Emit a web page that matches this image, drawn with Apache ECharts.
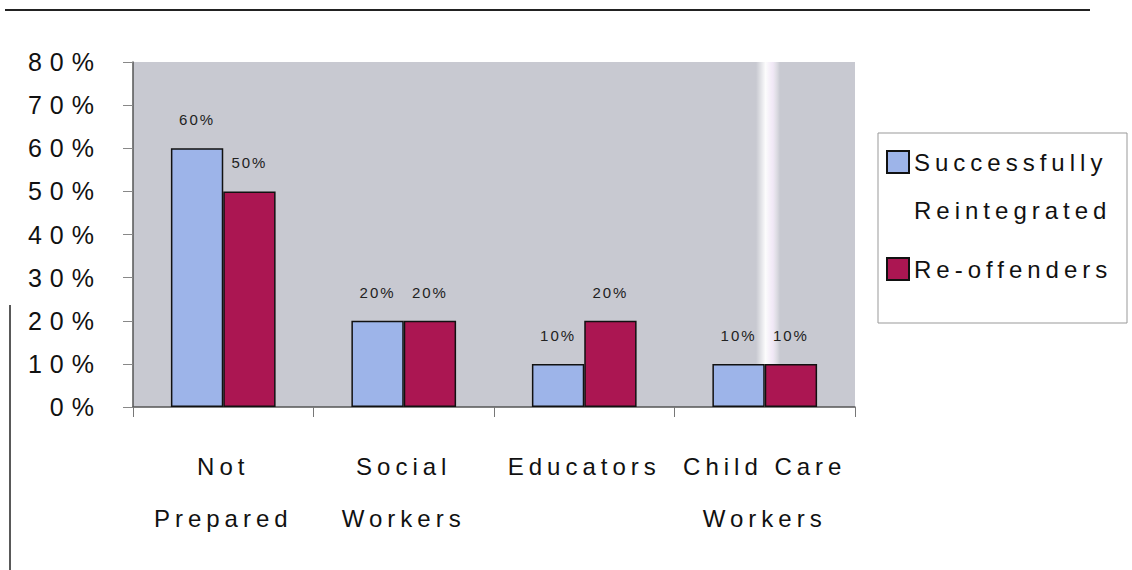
<!DOCTYPE html>
<html>
<head>
<meta charset="utf-8">
<script src="https://cdn.jsdelivr.net/npm/echarts@6/dist/echarts.min.js"></script>
<style>
html,body{margin:0;padding:0;background:#fff;}
#chart{width:1132px;height:570px;}
#chart text[style*="25px"]{letter-spacing:8px;}
#chart text[style*="24px"]{letter-spacing:5px;}
#chart text[style*="15px"]{letter-spacing:2px;}
</style>
</head>
<body>
<div id="chart"></div>
<script>
const categories = ['Not\nPrepared', 'Social\nWorkers', 'Educators', 'Child Care\nWorkers'];
const seriesNames = ['Successfully\nReintegrated', 'Re-offenders'];
const reintegrated = [0.60, 0.20, 0.10, 0.10];
const reoffenders = [0.50, 0.20, 0.20, 0.10];
const yTicks = { min: 0, max: 0.8, interval: 0.1 };

const FONT = "'Liberation Sans', Arial, sans-serif";
const chart = echarts.init(document.getElementById('chart'), null, { renderer: 'svg' });
const labelCfg = {
  show: true, position: 'top', distance: 21,
  fontFamily: FONT, fontSize: 15, color: '#222',
  formatter: p => Math.round(p.value * 100) + '%'
};
chart.setOption({
  animation: false,
  backgroundColor: '#ffffff',
  grid: {
    left: 133, right: 277, top: 62, bottom: 163,
    show: true, backgroundColor: '#c8c9d1', borderWidth: 0
  },
  graphic: [
    { type: 'rect', z: 1, shape: { x: 756, y: 62, width: 24, height: 345 },
      style: { fill: new echarts.graphic.LinearGradient(0, 0, 1, 0, [
        { offset: 0, color: 'rgba(255,255,255,0)' },
        { offset: 0.4, color: 'rgba(255,255,255,0.95)' },
        { offset: 0.7, color: 'rgba(245,235,250,0.9)' },
        { offset: 1, color: 'rgba(255,255,255,0)' }]) } },
    { type: 'line', shape: { x1: 5, y1: 10, x2: 1090, y2: 10 }, style: { stroke: '#222', lineWidth: 2 } },
    { type: 'line', shape: { x1: 10, y1: 305, x2: 10, y2: 570 }, style: { stroke: '#222', lineWidth: 1.5 } },
    { type: 'rect', shape: { x: 878, y: 133, width: 249, height: 190 }, style: { fill: '#fff', stroke: '#999', lineWidth: 1 } }
  ],
  legend: [
    { data: [seriesNames[0]], left: 886, top: 90, orient: 'vertical', padding: 0,
      itemWidth: 22, itemHeight: 22, itemGap: 0, icon: 'rect',
      formatter: n => '\n' + n,
      textStyle: { fontFamily: FONT, fontSize: 24, color: '#111', lineHeight: 48 } },
    { data: [seriesNames[1]], left: 886, top: 245, orient: 'vertical', padding: 0,
      itemWidth: 22, itemHeight: 22, itemGap: 0, icon: 'rect',
      textStyle: { fontFamily: FONT, fontSize: 24, color: '#111', lineHeight: 48 } }
  ],
  xAxis: {
    type: 'category', data: categories,
    axisLine: { lineStyle: { color: '#555', width: 1.5 } },
    axisTick: { show: true, length: 10, lineStyle: { color: '#777' } },
    axisLabel: { fontFamily: FONT, fontSize: 24, color: '#111', lineHeight: 52, margin: 33 }
  },
  yAxis: {
    type: 'value', min: yTicks.min, max: yTicks.max, interval: yTicks.interval,
    axisLine: { show: true, lineStyle: { color: '#555', width: 1.5 } },
    axisTick: { show: true, length: 10, lineStyle: { color: '#888' } },
    splitLine: { show: false },
    axisLabel: { fontFamily: FONT, fontSize: 25, color: '#111', margin: 31,
      formatter: v => Math.round(v * 100) + '%' }
  },
  series: [
    { name: seriesNames[0], type: 'bar', data: reintegrated, barGap: '0%', barCategoryGap: '42%',
      itemStyle: { color: '#9db4e9', borderColor: '#111', borderWidth: 1.5 }, label: labelCfg },
    { name: seriesNames[1], type: 'bar', data: reoffenders,
      itemStyle: { color: '#ab1652', borderColor: '#111', borderWidth: 1.5 }, label: labelCfg }
  ]
});
</script>
</body>
</html>
